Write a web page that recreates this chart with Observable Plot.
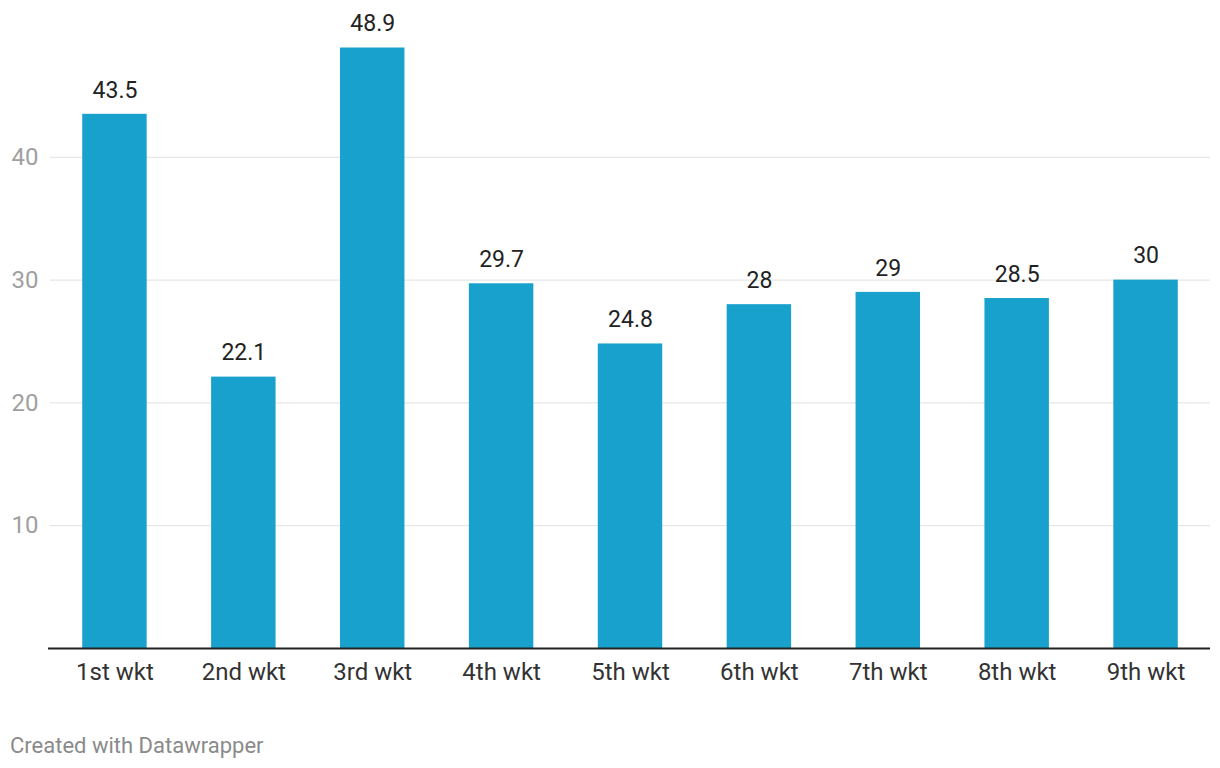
<!DOCTYPE html>
<html>
<head>
<meta charset="utf-8">
<script src="https://cdn.jsdelivr.net/npm/d3@7"></script>
<script src="https://cdn.jsdelivr.net/npm/@observablehq/plot@0.6"></script>
<style>
  body { margin: 0; background: #fff; font-family: Roboto, "Noto Sans", sans-serif; }
  #chart svg { display: block; }
  #footer { position: absolute; left: 10px; top: 733px; font-size: 22px; color: #8a8a8a; font-family: Roboto, sans-serif; }
</style>
</head>
<body>
<div id="chart"></div>
<div id="footer">Created with Datawrapper</div>
<script>
const categories = ["1st wkt", "2nd wkt", "3rd wkt", "4th wkt", "5th wkt", "6th wkt", "7th wkt", "8th wkt", "9th wkt"];
const values = [43.5, 22.1, 48.9, 29.7, 24.8, 28, 29, 28.5, 30];
const yTicks = [10, 20, 30, 40];

const data = categories.map((c, i) => ({cat: c, v: values[i]}));

const chart = Plot.plot({
  width: 1220,
  height: 700,
  marginLeft: 50,
  marginRight: 10,
  marginTop: 34,
  marginBottom: 52,
  style: {fontFamily: "Roboto, sans-serif", background: "#fff"},
  x: {domain: categories, paddingInner: 0.5, paddingOuter: 0.25, round: false, label: null},
  y: {domain: [0, 50], label: null},
  marks: [
    Plot.gridY(yTicks, {stroke: "#e0e0e0", strokeOpacity: 1, strokeWidth: 1}),
    Plot.axisY(yTicks, {tickSize: 0, tickPadding: 12, fontSize: 24, fill: "#a0a0a0", label: null}),
    Plot.barY(data, {x: "cat", y: "v", fill: "#18a1cd"}),
    Plot.ruleY([0], {stroke: "#222", strokeWidth: 2, insetLeft: -2}),
    Plot.axisX({tickSize: 0, tickPadding: 14, fontSize: 24, fill: "#333", label: null}),
    Plot.text(data, {x: "cat", y: "v", text: d => String(d.v), dy: -24, fontSize: 23, fill: "#222"})
  ]
});
document.getElementById("chart").append(chart);
</script>
</body>
</html>
